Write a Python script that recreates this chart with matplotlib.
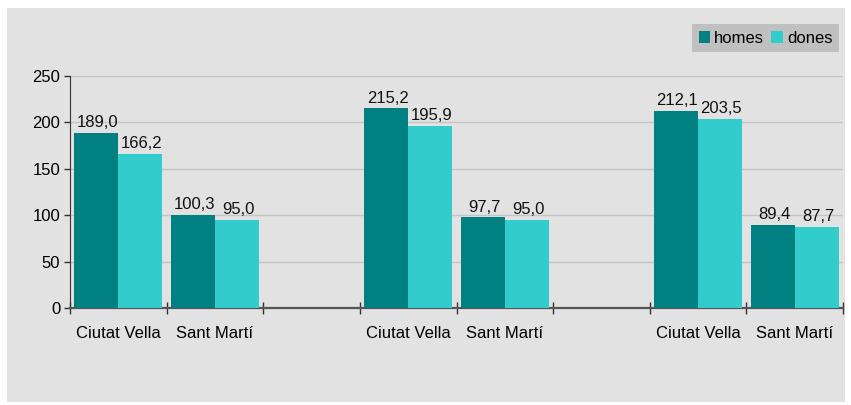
import numpy as np
import matplotlib.pyplot as plt
from matplotlib.patches import Rectangle

plt.rcParams['font.family'] = ['Liberation Sans', 'DejaVu Sans']

# data
categories = ["Ciutat Vella", "Sant Martí", "", "Ciutat Vella", "Sant Martí", "",
              "Ciutat Vella", "Sant Martí"]
homes = [189.0, 100.3, None, 215.2, 97.7, None, 212.1, 89.4]
dones = [166.2, 95.0, None, 195.9, 95.0, None, 203.5, 87.7]
series_names = ["homes", "dones"]
yticks = [0, 50, 100, 150, 200, 250]

c_homes = "#008080"
c_dones = "#33cccc"

fig = plt.figure(figsize=(8.51, 4.05), dpi=100)
fig.patch.set_facecolor("white")
fig.patches.append(Rectangle((7 / 851, 3 / 405), 838 / 851, 394 / 405,
                             transform=fig.transFigure, facecolor="#e2e2e2",
                             edgecolor="none", zorder=-10))

ax = fig.add_axes([70 / 851, 97 / 405, 773 / 851, 232 / 405])
ax.set_facecolor("none")

w = 0.455
x = np.arange(len(categories))
idx = [i for i in x if homes[i] is not None]
hv = [homes[i] for i in idx]
dv = [dones[i] for i in idx]
xi = np.array(idx)

b1 = ax.bar(xi - w / 2, hv, w, color=c_homes, label=series_names[0], zorder=3)
b2 = ax.bar(xi + w / 2, dv, w, color=c_dones, label=series_names[1], zorder=3)

def fmt(v):
    return ("%.1f" % v).replace(".", ",")

for bars, vals in ((b1, hv), (b2, dv)):
    for b, v in zip(bars, vals):
        ax.annotate(fmt(v), (b.get_x() + b.get_width() / 2, v),
                    xytext=(1, 2), textcoords="offset points",
                    ha="center", va="bottom", fontsize=12, color="#111111")

ax.set_xlim(-0.5, len(categories) - 0.5)
ax.set_ylim(0, 250)
ax.set_yticks(yticks)
ax.set_yticklabels([str(t) for t in yticks], fontsize=12)
ax.grid(axis="y", color="#c4c4c4", linewidth=1, zorder=1)

ax.set_xticks(x)
ax.set_xticklabels(categories, fontsize=12)
ax.tick_params(axis="x", which="major", length=0, pad=13)
ax.set_xticks(np.arange(-0.5, len(categories) - 0.4, 1), minor=True)
ax.tick_params(axis="x", which="minor", direction="inout", length=8,
               width=1, color="#333333")
ax.tick_params(axis="y", direction="out", length=4, width=1,
               color="#333333", pad=3)

for s in ("top", "right"):
    ax.spines[s].set_visible(False)
ax.spines["left"].set_color("#333333")
ax.spines["bottom"].set_color("#555555")
ax.spines["bottom"].set_linewidth(1.6)

leg = ax.legend(loc="upper right", bbox_to_anchor=(839 / 851, 1 - 24 / 405),
                bbox_transform=fig.transFigure, ncol=2, fontsize=12,
                frameon=True, fancybox=False, handlelength=0.7,
                handleheight=0.7, handletextpad=0.25, columnspacing=0.4,
                borderpad=0.4, borderaxespad=0)
leg.get_frame().set_facecolor("#c0c0c0")
leg.get_frame().set_edgecolor("none")
leg.get_frame().set_alpha(1)

fig.savefig("out.png", dpi=100)
